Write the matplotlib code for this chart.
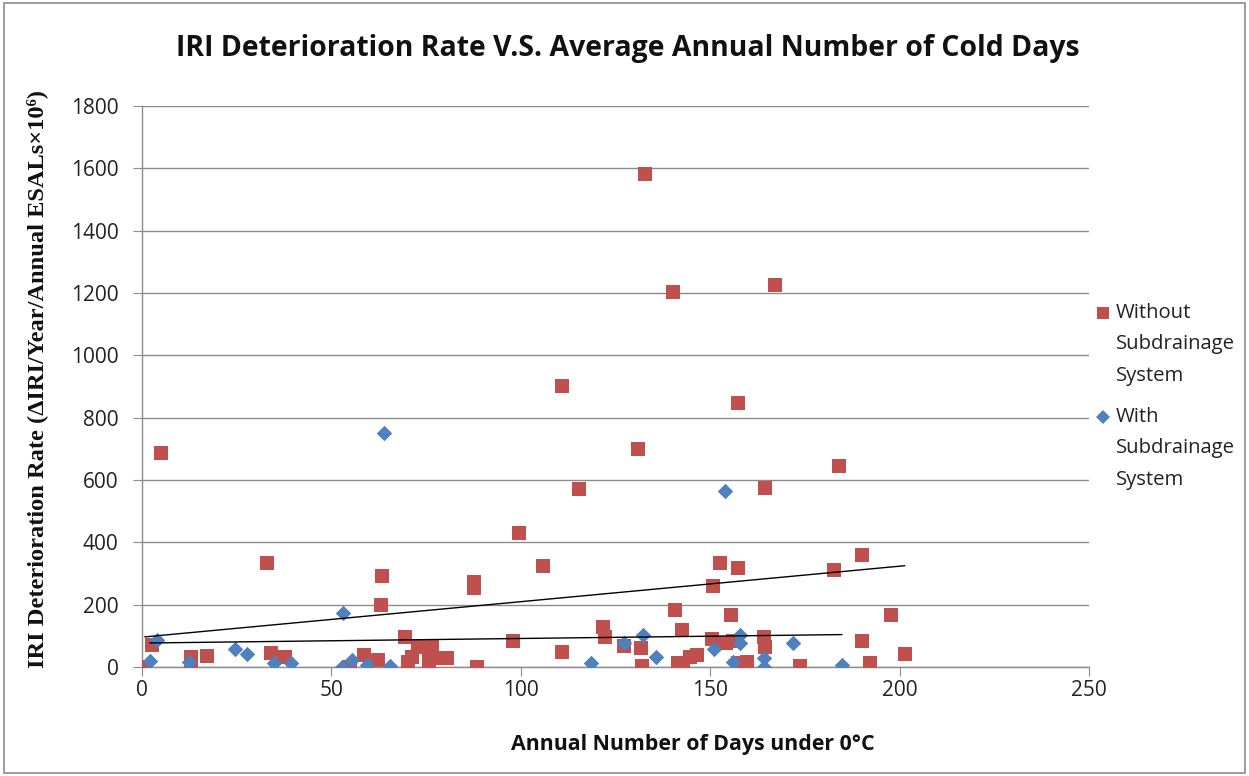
import numpy as np
import matplotlib
matplotlib.use("Agg")
import matplotlib.pyplot as plt
from matplotlib.patches import Rectangle
from matplotlib.lines import Line2D

# Pavement sections without a subdrainage system
without_days = [0.8, 2.6, 5.0, 12.9, 12.9, 17.1, 33.0, 34.0, 37.7, 54.9, 58.6, 62.3,
                63.1, 63.3, 69.4, 70.2, 71.2, 72.8, 75.8, 76.5, 77.8, 80.4, 87.6, 87.6,
                88.3, 98.0, 99.5, 105.8, 110.8, 110.8, 115.3, 121.7, 122.2, 127.2, 130.9,
                131.7, 131.9, 132.7, 140.1, 140.6, 141.4, 142.5, 142.7, 144.6, 146.4,
                150.4, 150.7, 152.5, 154.1, 155.4, 156.0, 157.3, 157.3, 157.3, 159.6,
                164.1, 164.4, 164.4, 167.0, 173.6, 182.6, 183.9, 190.0, 190.0, 192.1,
                197.6, 201.3]
without_rate = [0, 70, 686, 32, 0, 35, 333, 45, 32, 0, 38, 22,
                199, 292, 97, 16, 32, 64, 19, 64, 28, 28, 272, 255,
                0, 84, 430, 324, 48, 901, 571, 128, 97, 67, 700,
                61, 3, 1581, 1203, 183, 13, 119, 6, 32, 38,
                90, 260, 333, 77, 167, 82, 317, 847, 13, 16,
                97, 64, 574, 1226, 3, 311, 645, 359, 84, 13,
                167, 42]

# Pavement sections with a subdrainage system
with_days = [2.1, 3.9, 12.4, 24.5, 27.6, 34.8, 39.3, 52.8, 53.1, 55.4, 59.4, 63.9,
             65.4, 118.5, 127.2, 132.2, 135.6, 150.9, 153.8, 156.0, 157.8, 157.8,
             164.1, 164.1, 171.8, 184.7]
with_rate = [19, 86, 16, 57, 42, 14, 14, 0, 174, 22, 6, 751,
             3, 13, 76, 103, 32, 57, 566, 16, 103, 77,
             28, 0, 77, 6]

series_labels = ["Without\nSubdrainage\nSystem", "With\nSubdrainage\nSystem"]

RED = "#C0504D"
BLUE = "#4F81BD"
GRID = "#8C8C8C"
SANS = "Open Sans"

fig = plt.figure(figsize=(12.49, 7.76), dpi=100)
fig.patches.append(Rectangle((0.003, 0.004), 0.994, 0.992, transform=fig.transFigure,
                             fill=False, edgecolor="#8C8C8C", linewidth=1.2))
ax = fig.add_axes([0.1137, 0.1405, 0.872 - 0.1137, 0.8634 - 0.1405])

ax.scatter(without_days, without_rate, marker="s", s=90, color=RED, zorder=3,
           linewidths=0)
ax.scatter(with_days, with_rate, marker="D", s=62, color=BLUE, zorder=3,
           linewidths=0)

# Linear trend lines over each series' range
for xs, ys in ((without_days, without_rate), (with_days, with_rate)):
    xs = np.asarray(xs, float)
    ys = np.asarray(ys, float)
    k, b = np.polyfit(xs, ys, 1)
    xx = np.array([xs.min(), xs.max()])
    ax.plot(xx, k * xx + b, color="black", linewidth=1.0, zorder=4)

ax.set_xlim(0, 250)
ax.set_ylim(0, 1800)
ax.set_xticks(np.arange(0, 251, 50))
ax.set_yticks(np.arange(0, 1801, 200))
ax.yaxis.grid(True, color=GRID, linewidth=1.0)
ax.set_axisbelow(True)
for side in ("top", "right"):
    ax.spines[side].set_visible(False)
for side in ("left", "bottom"):
    ax.spines[side].set_color(GRID)
    ax.spines[side].set_linewidth(1.0)
ax.tick_params(axis="both", direction="out", length=6.5, color=GRID,
               labelsize=15, labelcolor="#222222")
for lbl in ax.get_xticklabels() + ax.get_yticklabels():
    lbl.set_fontfamily(SANS)
ax.tick_params(axis="y", pad=10.5)
ax.tick_params(axis="x", pad=3)

fig.text(0.503, 0.938, "IRI Deterioration Rate V.S. Average Annual Number of Cold Days",
         ha="center", va="center", fontsize=20.4, fontweight="bold", family=SANS,
         color="#111111")
fig.text(0.555, 0.04, "Annual Number of Days under 0°C", ha="center", va="center",
         fontsize=15.4, fontweight="bold", family=SANS, color="#111111")
fig.text(0.030, 0.5116, "IRI Deterioration Rate (ΔIRI/Year/Annual ESALs×10⁶)",
         rotation=90, ha="center", va="center", fontsize=17.6, fontweight="bold",
         family="Liberation Serif", color="#111111")

# Legend: marker beside the first line of each multi-line label
legend_rows = [(RED, "s", 8, 313), (BLUE, "D", 7, 417)]
W, H = 1249.0, 776.0
for (col, mk, ms, ypx), text in zip(legend_rows, series_labels):
    yf = 1 - ypx / H
    fig.add_artist(Line2D([1103 / W], [yf], transform=fig.transFigure, marker=mk,
                          markersize=ms, color=col, linestyle="none",
                          markeredgewidth=0))
    fig.text(1116 / W, yf + 0.0135, text, ha="left", va="top", fontsize=14.6,
             family=SANS, color="#222222", linespacing=1.78)

fig.savefig("out.png", dpi=100)
